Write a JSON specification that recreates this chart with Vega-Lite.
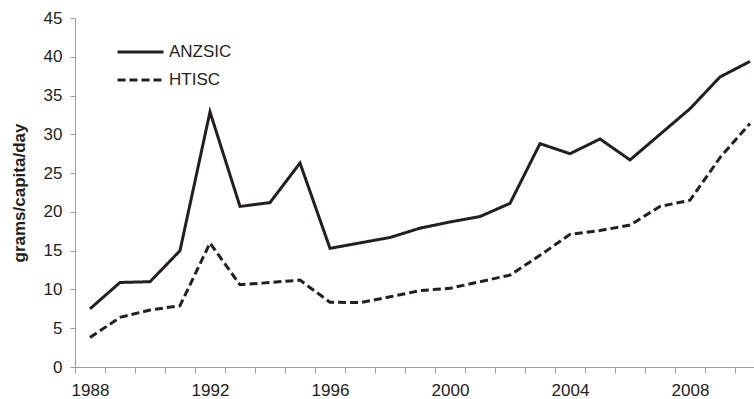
{
  "$schema": "https://vega.github.io/schema/vega-lite/v6.json",
  "width": 679,
  "height": 349,
  "autosize": {"type": "none"},
  "padding": {"left": 75, "top": 18, "right": 0, "bottom": 32},
  "background": "white",
  "config": {
    "view": {"stroke": null},
    "font": "Liberation Sans",
    "axis": {
      "domainColor": "#9d9d9d",
      "tickColor": "#9d9d9d",
      "grid": false,
      "labelColor": "#231f20",
      "labelFont": "Liberation Sans",
      "labelFontSize": 17,
      "titleFont": "Liberation Sans",
      "titleColor": "#231f20"
    }
  },
  "data": {
    "values": [
      {"year": 1988, "series": "ANZSIC", "value": 7.5},
      {"year": 1989, "series": "ANZSIC", "value": 10.9},
      {"year": 1990, "series": "ANZSIC", "value": 11.0},
      {"year": 1991, "series": "ANZSIC", "value": 15.0},
      {"year": 1992, "series": "ANZSIC", "value": 32.9},
      {"year": 1993, "series": "ANZSIC", "value": 20.7},
      {"year": 1994, "series": "ANZSIC", "value": 21.2},
      {"year": 1995, "series": "ANZSIC", "value": 26.3},
      {"year": 1996, "series": "ANZSIC", "value": 15.3},
      {"year": 1997, "series": "ANZSIC", "value": 16.0},
      {"year": 1998, "series": "ANZSIC", "value": 16.7},
      {"year": 1999, "series": "ANZSIC", "value": 17.9},
      {"year": 2000, "series": "ANZSIC", "value": 18.7},
      {"year": 2001, "series": "ANZSIC", "value": 19.4},
      {"year": 2002, "series": "ANZSIC", "value": 21.1},
      {"year": 2003, "series": "ANZSIC", "value": 28.8},
      {"year": 2004, "series": "ANZSIC", "value": 27.5},
      {"year": 2005, "series": "ANZSIC", "value": 29.4},
      {"year": 2006, "series": "ANZSIC", "value": 26.7},
      {"year": 2007, "series": "ANZSIC", "value": 30.0},
      {"year": 2008, "series": "ANZSIC", "value": 33.3},
      {"year": 2009, "series": "ANZSIC", "value": 37.4},
      {"year": 2010, "series": "ANZSIC", "value": 39.4},
      {"year": 1988, "series": "HTISC", "value": 3.8},
      {"year": 1989, "series": "HTISC", "value": 6.4},
      {"year": 1990, "series": "HTISC", "value": 7.35},
      {"year": 1991, "series": "HTISC", "value": 7.9},
      {"year": 1992, "series": "HTISC", "value": 16.0},
      {"year": 1993, "series": "HTISC", "value": 10.6},
      {"year": 1994, "series": "HTISC", "value": 10.9},
      {"year": 1995, "series": "HTISC", "value": 11.2},
      {"year": 1996, "series": "HTISC", "value": 8.35},
      {"year": 1997, "series": "HTISC", "value": 8.3},
      {"year": 1998, "series": "HTISC", "value": 9.05},
      {"year": 1999, "series": "HTISC", "value": 9.85},
      {"year": 2000, "series": "HTISC", "value": 10.15},
      {"year": 2001, "series": "HTISC", "value": 11.0},
      {"year": 2002, "series": "HTISC", "value": 11.85},
      {"year": 2003, "series": "HTISC", "value": 14.4},
      {"year": 2004, "series": "HTISC", "value": 17.1},
      {"year": 2005, "series": "HTISC", "value": 17.6},
      {"year": 2006, "series": "HTISC", "value": 18.3},
      {"year": 2007, "series": "HTISC", "value": 20.7},
      {"year": 2008, "series": "HTISC", "value": 21.5},
      {"year": 2009, "series": "HTISC", "value": 27.0},
      {"year": 2010, "series": "HTISC", "value": 31.4}
    ]
  },
  "mark": {"type": "line", "strokeWidth": 3, "color": "#231f20", "strokeJoin": "miter"},
  "encoding": {
    "x": {
      "field": "year",
      "type": "quantitative",
      "scale": {"domain": [1987.5, 2010.1333], "nice": false, "zero": false},
      "axis": {
        "title": null,
        "values": [1987.5, 1988.5, 1989.5, 1990.5, 1991.5, 1992.5, 1993.5, 1994.5, 1995.5, 1996.5, 1997.5, 1998.5, 1999.5, 2000.5, 2001.5, 2002.5, 2003.5, 2004.5, 2005.5, 2006.5, 2007.5, 2008.5, 2009.5],
        "labelExpr": "(datum.value + 0.5 - 1988) % 4 == 0 ? '' + (datum.value + 0.5) : ''",
        "labelOffset": 15,
        "labelOverlap": false,
        "labelFlush": false,
        "labelBound": false,
        "tickSize": 6,
        "labelPadding": 9
      }
    },
    "y": {
      "field": "value",
      "type": "quantitative",
      "scale": {"domain": [0, 45], "nice": false},
      "axis": {
        "title": "grams/capita/day",
        "titleFontSize": 17,
        "titleFontWeight": "bold",
        "titlePadding": 15,
        "values": [0, 5, 10, 15, 20, 25, 30, 35, 40, 45],
        "tickSize": 5,
        "labelPadding": 8
      }
    },
    "strokeDash": {
      "field": "series",
      "type": "nominal",
      "scale": {"domain": ["ANZSIC", "HTISC"], "range": [[1, 0], [8, 4]]},
      "legend": {
        "title": null,
        "orient": "none",
        "legendX": 41,
        "legendY": 22,
        "symbolType": "stroke",
        "symbolSize": 2116,
        "symbolStrokeWidth": 3,
        "symbolStrokeColor": "#231f20",
        "labelFontSize": 17,
        "labelColor": "#231f20",
        "labelOffset": 4,
        "clipHeight": 24,
        "rowPadding": 4
      }
    }
  }
}
